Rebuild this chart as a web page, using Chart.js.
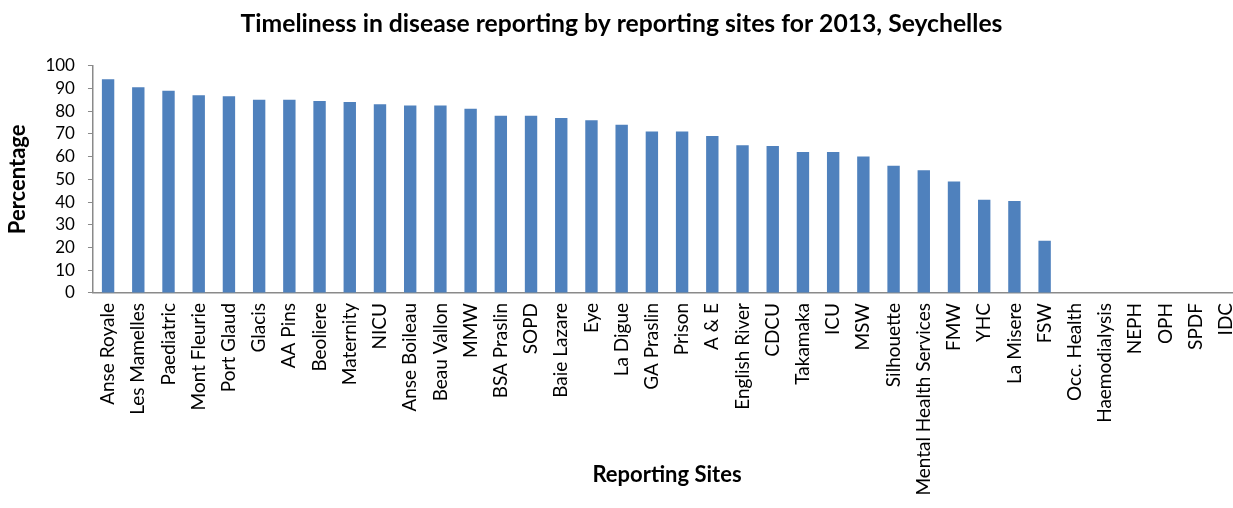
<!DOCTYPE html>
<html lang="en">
<head>
<meta charset="utf-8">
<title>Timeliness in disease reporting, 2013</title>
<script src="https://cdn.jsdelivr.net/npm/chart.js@4.4.1/dist/chart.umd.min.js"></script>
<style>
  html, body {
    margin: 0;
    padding: 0;
    background: #ffffff;
    overflow: hidden;
  }
  #chart-wrap {
    position: relative;
    width: 1241px;
    height: 508px;
  }
</style>
</head>
<body>
<div id="chart-wrap">
  <canvas id="timeliness-chart"></canvas>
</div>
<script>
// Reporting sites, ordered by timeliness
const sites = [
  "Anse Royale", "Les Mamelles", "Paediatric", "Mont Fleurie", "Port Glaud",
  "Glacis", "AA Pins", "Beoliere", "Maternity", "NICU",
  "Anse Boileau", "Beau Vallon", "MMW", "BSA Praslin", "SOPD",
  "Baie Lazare", "Eye", "La Digue", "GA Praslin", "Prison",
  "A & E", "English River", "CDCU", "Takamaka", "ICU",
  "MSW", "Silhouette", "Mental Health Services", "FMW", "YHC",
  "La Misere", "FSW", "Occ. Health", "Haemodialysis", "NEPH",
  "OPH", "SPDF", "IDC"
];

// Percentage of reports received on time
const timeliness = [
  94, 90.5, 89, 87, 86.5,
  85, 85, 84.5, 84, 83,
  82.5, 82.5, 81, 78, 78,
  77, 76, 74, 71, 71,
  69, 65, 64.7, 62, 62,
  60, 56, 54, 49, 41,
  40.5, 23, 0, 0, 0,
  0, 0, 0
];

// Y axis ticks (0 to 100 by 10)
const yMin = 0;
const yMax = 100;
const yStep = 10;

const chartTitle = "Timeliness in disease reporting by reporting sites for 2013, Seychelles";
const xTitle = "Reporting Sites";
const yTitle = "Percentage";

const fontFamily = "Lato, 'Open Sans', sans-serif";
const axisColor = "#8a8a8a";
const barColor = "#4f81bd";

const ctx = document.getElementById("timeliness-chart").getContext("2d");

new Chart(ctx, {
  type: "bar",
  data: {
    labels: sites,
    datasets: [
      {
        label: yTitle,
        data: timeliness,
        backgroundColor: barColor,
        borderWidth: 0,
        barPercentage: 0.41,
        categoryPercentage: 1.0,
      },
    ],
  },
  options: {
    responsive: true,
    maintainAspectRatio: false,
    animation: false,
    layout: {
      padding: { top: 4, right: 0, bottom: 10, left: 2 },
    },
    plugins: {
      legend: { display: false },
      tooltip: { enabled: false },
      title: {
        display: true,
        text: chartTitle,
        color: "#000000",
        font: { family: fontFamily, size: 24.7, weight: "bold" },
        padding: { top: 5, bottom: 27 },
      },
    },
    scales: {
      x: {
        offset: true,
        // let the axis run to the right edge instead of reserving room for the last label
        afterFit: (scale) => {
          scale.paddingLeft = 0;
          scale.paddingRight = 0;
        },
        grid: {
          display: false,
          drawOnChartArea: false,
          drawTicks: false,
        },
        border: { display: true, color: axisColor, width: 1.5 },
        ticks: {
          autoSkip: false,
          minRotation: 90,
          maxRotation: 90,
          padding: 10,
          color: "#000000",
          font: { family: fontFamily, size: 19 },
        },
        // the axis title sits beside the long labels, so it is pulled up into their band
        title: {
          display: true,
          text: xTitle,
          color: "#000000",
          font: { family: fontFamily, size: 22, weight: "bold" },
          padding: { top: -44, bottom: 10 },
        },
      },
      y: {
        min: yMin,
        max: yMax,
        grid: {
          display: true,
          drawOnChartArea: false,
          drawTicks: true,
          tickLength: 5,
          color: axisColor,
        },
        border: { display: true, color: axisColor, width: 1.5 },
        ticks: {
          stepSize: yStep,
          autoSkip: false,
          padding: 13,
          color: "#000000",
          font: { family: fontFamily, size: 17 },
        },
        title: {
          display: true,
          text: yTitle,
          color: "#000000",
          font: { family: fontFamily, size: 22, weight: "bold" },
          padding: { top: 3, bottom: 1 },
        },
      },
    },
  },
});
</script>
</body>
</html>
